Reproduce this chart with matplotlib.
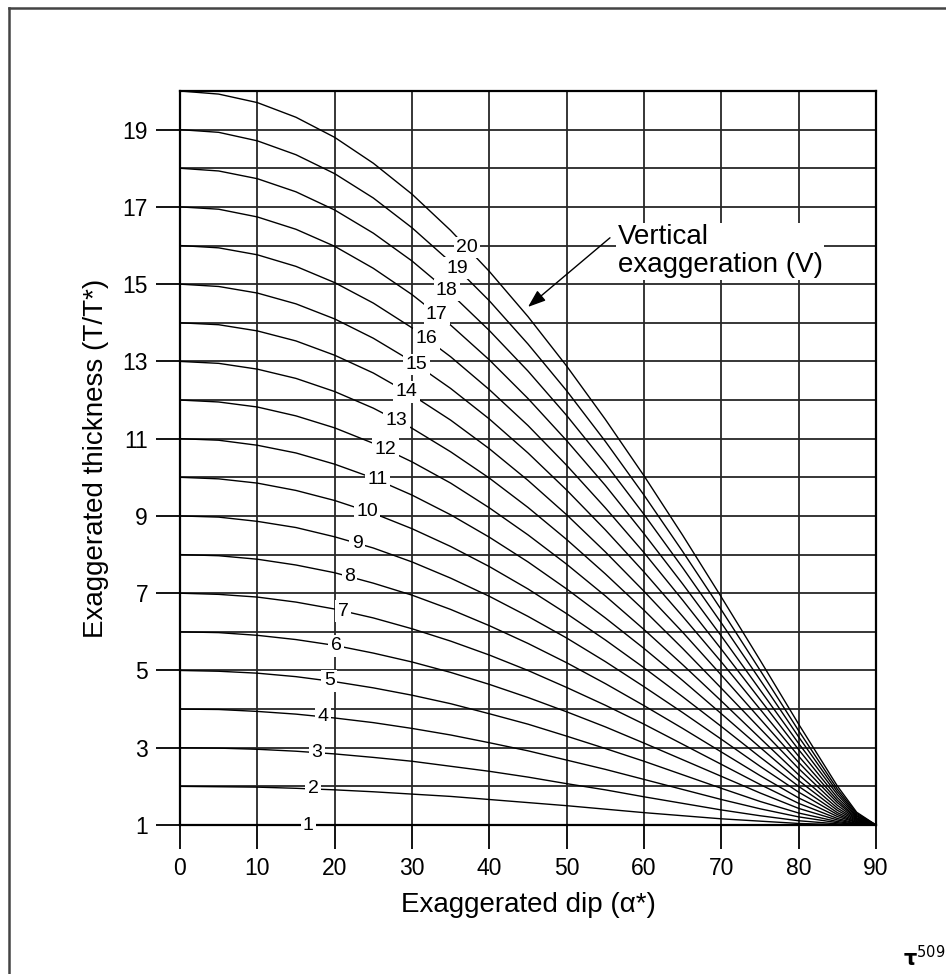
import numpy as np
import matplotlib
matplotlib.use('Agg')
import matplotlib.pyplot as plt
from matplotlib.lines import Line2D

plt.rcParams['font.family'] = ['Liberation Sans', 'DejaVu Sans']

# exaggerated dip (deg) at which each curve was read
dips = [0, 5, 10, 15, 20, 25, 30, 35, 40, 45, 50, 55, 60, 65, 70, 75, 80, 85, 87.5, 90]

# exaggerated thickness T/T* for each vertical exaggeration V
v1 = [1.00] * 20
v2 = [2.00, 1.99, 1.98, 1.95, 1.91, 1.86, 1.80, 1.74, 1.66, 1.58, 1.50, 1.41, 1.32, 1.24, 1.16, 1.10, 1.04, 1.01, 1.00, 1.00]
v3 = [3.00, 2.99, 2.96, 2.91, 2.84, 2.75, 2.65, 2.52, 2.39, 2.24, 2.07, 1.91, 1.73, 1.56, 1.39, 1.24, 1.11, 1.03, 1.01, 1.00]
v4 = [4.00, 3.99, 3.94, 3.87, 3.77, 3.65, 3.50, 3.33, 3.13, 2.92, 2.68, 2.44, 2.18, 1.92, 1.66, 1.42, 1.21, 1.06, 1.01, 1.00]
v5 = [5.00, 4.98, 4.93, 4.84, 4.71, 4.55, 4.36, 4.14, 3.88, 3.61, 3.30, 2.98, 2.65, 2.30, 1.95, 1.61, 1.31, 1.09, 1.02, 1.00]
v6 = [6.00, 5.98, 5.91, 5.80, 5.65, 5.45, 5.22, 4.95, 4.64, 4.30, 3.93, 3.54, 3.12, 2.69, 2.26, 1.83, 1.43, 1.13, 1.03, 1.00]
v7 = [7.00, 6.97, 6.90, 6.77, 6.59, 6.36, 6.08, 5.76, 5.40, 5.00, 4.56, 4.10, 3.61, 3.09, 2.57, 2.05, 1.56, 1.17, 1.04, 1.00]
v8 = [8.00, 7.97, 7.88, 7.73, 7.53, 7.26, 6.95, 6.58, 6.16, 5.70, 5.20, 4.66, 4.09, 3.50, 2.89, 2.28, 1.70, 1.22, 1.06, 1.00]
v9 = [9.00, 8.97, 8.86, 8.70, 8.46, 8.17, 7.81, 7.39, 6.92, 6.40, 5.84, 5.23, 4.58, 3.91, 3.22, 2.52, 1.85, 1.27, 1.07, 1.00]
v10 = [10.00, 9.96, 9.85, 9.66, 9.40, 9.07, 8.67, 8.21, 7.69, 7.11, 6.47, 5.79, 5.07, 4.32, 3.55, 2.76, 2.00, 1.32, 1.09, 1.00]
v11 = [11.00, 10.96, 10.83, 10.63, 10.34, 9.98, 9.54, 9.03, 8.45, 7.81, 7.11, 6.36, 5.57, 4.74, 3.88, 3.01, 2.15, 1.38, 1.11, 1.00]
v12 = [12.00, 11.95, 11.82, 11.59, 11.28, 10.88, 10.40, 9.85, 9.21, 8.51, 7.75, 6.93, 6.06, 5.15, 4.21, 3.25, 2.30, 1.44, 1.13, 1.00]
v13 = [13.00, 12.95, 12.80, 12.56, 12.22, 11.79, 11.27, 10.66, 9.98, 9.22, 8.39, 7.50, 6.56, 5.57, 4.54, 3.50, 2.46, 1.51, 1.15, 1.00]
v14 = [14.00, 13.95, 13.79, 13.53, 13.16, 12.70, 12.13, 11.48, 10.74, 9.92, 9.03, 8.07, 7.05, 5.99, 4.88, 3.75, 2.62, 1.58, 1.17, 1.00]
v15 = [15.00, 14.94, 14.77, 14.49, 14.10, 13.60, 13.00, 12.30, 11.51, 10.63, 9.67, 8.64, 7.55, 6.40, 5.22, 4.00, 2.78, 1.64, 1.19, 1.00]
v16 = [16.00, 15.94, 15.76, 15.46, 15.04, 14.51, 13.87, 13.12, 12.27, 11.34, 10.31, 9.21, 8.05, 6.82, 5.55, 4.25, 2.95, 1.71, 1.22, 1.00]
v17 = [17.00, 16.94, 16.74, 16.42, 15.98, 15.41, 14.73, 13.94, 13.04, 12.04, 10.95, 9.79, 8.54, 7.24, 5.89, 4.50, 3.11, 1.79, 1.24, 1.00]
v18 = [18.00, 17.93, 17.73, 17.39, 16.92, 16.32, 15.60, 14.76, 13.80, 12.75, 11.60, 10.36, 9.04, 7.66, 6.23, 4.76, 3.28, 1.86, 1.27, 1.00]
v19 = [19.00, 18.93, 18.71, 18.35, 17.86, 17.23, 16.46, 15.57, 14.57, 13.45, 12.24, 10.93, 9.54, 8.08, 6.57, 5.01, 3.44, 1.93, 1.30, 1.00]
v20 = [20.00, 19.92, 19.70, 19.32, 18.80, 18.13, 17.33, 16.39, 15.33, 14.16, 12.88, 11.50, 10.04, 8.50, 6.90, 5.27, 3.61, 2.01, 1.33, 1.00]

curves = [v1, v2, v3, v4, v5, v6, v7, v8, v9, v10,
          v11, v12, v13, v14, v15, v16, v17, v18, v19, v20]
curve_names = [str(i) for i in range(1, 21)]

# dip at which each curve's V label sits
label_x = [16.6, 17.2, 17.7, 18.5, 19.3, 20.2, 21.1, 21.9, 22.9, 24.2,
           25.5, 26.6, 28.0, 29.3, 30.6, 31.9, 33.2, 34.5, 35.8, 37.1]


fig = plt.figure(figsize=(9.46, 9.74), dpi=100)
ax = fig.add_axes([180/946, 149/974, 696/946, 734/974])

for vals in curves:
    ax.plot(dips, vals, color='black', lw=1.0, zorder=3)

for name, vals, lx in zip(curve_names, curves, label_x):
    ly = np.interp(lx, dips, vals)
    ax.text(lx, ly, name, fontsize=14, ha='center', va='center', zorder=5,
            bbox=dict(boxstyle='square,pad=0.12', fc='white', ec='none'))

ax.annotate('', xy=(45.0, 14.41), xytext=(55.6, 16.2),
            arrowprops=dict(arrowstyle='-|>,head_length=0.6,head_width=0.22', color='black', lw=1.0,
                            mutation_scale=18, shrinkA=0, shrinkB=0), zorder=6)
ax.text(56.6, 16.55, 'Vertical\nexaggeration (V)', fontsize=20, ha='left', va='top',
        linespacing=1.1, zorder=6,
        bbox=dict(boxstyle='square,pad=0.05', fc='white', ec='none'))

ax.set_xlim(0, 90)
ax.set_ylim(1, 20)
ax.set_xticks(range(0, 91, 10))
ax.set_yticks(range(1, 20, 2))
ax.set_yticks(range(2, 21, 2), minor=True)
ax.grid(True, which='both', color='#262626', lw=1.3)
ax.tick_params(which='major', direction='out', length=17, width=1.3, labelsize=16.5, pad=6)
ax.tick_params(which='minor', length=0)
for s in ax.spines.values():
    s.set_linewidth(1.6)
ax.set_xlabel('Exaggerated dip (\u03b1*)', fontsize=20, labelpad=9)
ax.set_ylabel('Exaggerated thickness (T/T*)', fontsize=20, labelpad=10)

# outer frame of the page
fig.add_artist(Line2D([9/946, 9/946], [0, 1 - 8/974], color='#444444', lw=1.8))
fig.add_artist(Line2D([9/946, 1], [1 - 8/974, 1 - 8/974], color='#444444', lw=1.8))
fig.text(903/946, 1 - 966/974, r'$\mathbf{\tau}^{509}$', fontsize=15,
         ha='left', va='baseline')

fig.savefig('out.png', dpi=100)
